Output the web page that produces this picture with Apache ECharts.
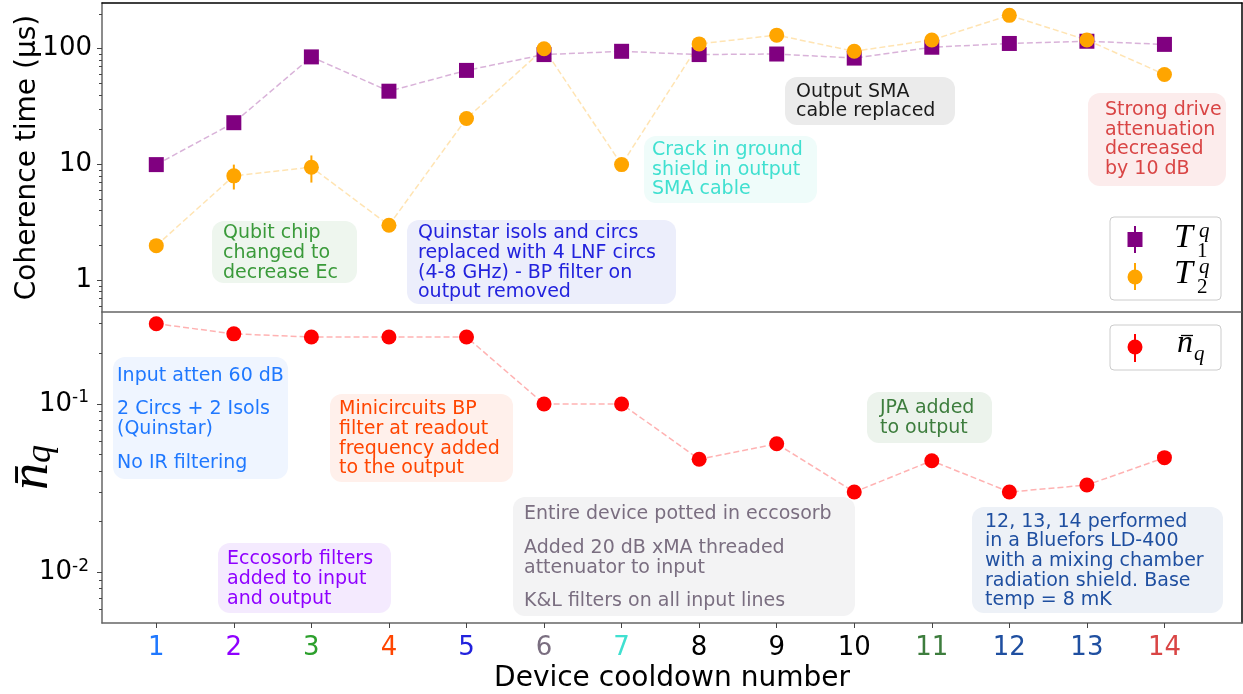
<!DOCTYPE html>
<html>
<head>
<meta charset="utf-8">
<script src="https://cdn.jsdelivr.net/npm/echarts@6/dist/echarts.min.js"></script>
<style>
html,body{margin:0;padding:0;background:#fff;}
#chart{width:1243px;height:694px;}
</style>
</head>
<body>
<div id="chart"></div>
<script>
// ---- data ----
const cooldowns = [1, 2, 3, 4, 5, 6, 7, 8, 9, 10, 11, 12, 13, 14];
const t1Values = [10, 23, 85, 43, 65, 89, 95, 89, 90, 83, 103, 111, 116, 109];
const t2Values = [2.0, 8.0, 9.5, 3.0, 25, 100, 10, 110, 131, 95, 119, 194, 119, 60];
const t2ErrLow = [null, 6.1, 7.0, null, null, null, null, null, null, null, null, null, null, null];
const t2ErrHigh = [null, 10, 12, null, null, null, null, null, null, null, null, null, null, null];
const nqValues = [0.30, 0.261, 0.25, 0.25, 0.25, 0.10, 0.10, 0.047, 0.058, 0.030, 0.046, 0.030, 0.033, 0.048];
const topMajorTicks = [1, 10, 100];
const topMinorTicks = [0.6, 0.7, 0.8, 0.9, 2, 3, 4, 5, 6, 7, 8, 9, 20, 30, 40, 50, 60, 70, 80, 90, 200];
const bottomMajorTicks = [0.01, 0.1];
const bottomMinorTicks = [0.006, 0.007, 0.008, 0.009, 0.02, 0.03, 0.04, 0.05, 0.06, 0.07, 0.08, 0.09, 0.2, 0.3];
const tickColors = ['#1f78ff', '#8f00ff', '#2ca02c', '#ff4500', '#2222dd', '#7a6e80', '#40e0d0',
                    '#000000', '#000000', '#000000', '#3d7d3d', '#1f4fa0', '#1f4fa0', '#d94545'];

const FONT = 'DejaVu Sans';
const MATH = 'Liberation Serif';
const X_MIN = 0.3, X_MAX = 15;
const TOP_MIN = 0.535, TOP_MAX = 248;
const BOT_MIN = 0.005, BOT_MAX = 0.352;

const chart = echarts.init(document.getElementById('chart'));

const pair = (xs, ys) => xs.map((x, i) => [x, ys[i]]);
const errData = cooldowns.map((x, i) => [x, t2ErrLow[i], t2ErrHigh[i]]).filter(d => d[1] != null);

const xRich = {};
tickColors.forEach((c, i) => { xRich['c' + i] = { color: c, fontSize: 26, fontFamily: FONT }; });

// annotation boxes: [left, top, right, bottom], text left, first-line centre
const annotations = [
  { text: 'Qubit chip\nchanged to\ndecrease Ec', color: '#3a9a3a', bg: '#eef6ee', box: [212, 221, 357, 283], tx: 223, ty: 233.3 },
  { text: 'Quinstar isols and circs\nreplaced with 4 LNF circs\n(4-8 GHz) - BP filter on\noutput removed', color: '#2222dd', bg: '#eceefb', box: [407, 220, 676, 304], tx: 418, ty: 233.3 },
  { text: 'Crack in ground\nshield in output\nSMA cable', color: '#40e0d0', bg: '#effcfa', box: [644, 136, 817, 203], tx: 652, ty: 150 },
  { text: 'Output SMA\ncable replaced', color: '#1a1a1a', bg: '#ebebeb', box: [785, 77, 955, 125], tx: 796, ty: 91.7 },
  { text: 'Strong drive\nattenuation\ndecreased\nby 10 dB', color: '#d94545', bg: '#fcecec', box: [1088, 93, 1226, 186], tx: 1105, ty: 110 },
  { text: 'Input atten 60 dB\n{g| }\n2 Circs + 2 Isols\n(Quinstar)\n{g| }\nNo IR filtering', color: '#1f78ff', bg: '#eff5ff', box: [113, 357, 288, 479], tx: 117, ty: 375.7 },
  { text: 'Minicircuits BP\nfilter at readout\nfrequency added\nto the output', color: '#ff4500', bg: '#fff0eb', box: [330, 394, 513, 482], tx: 339, ty: 409.3 },
  { text: 'Eccosorb filters\nadded to input\nand output', color: '#8f00ff', bg: '#f4eafe', box: [218, 543, 391, 613], tx: 227, ty: 559.3 },
  { text: 'Entire device potted in eccosorb\n{g| }\nAdded 20 dB xMA threaded\nattenuator to input\n{g| }\nK&L filters on all input lines', color: '#7a6e80', bg: '#f3f3f4', box: [513, 497, 855, 616], tx: 524, ty: 514.3 },
  { text: 'JPA added\nto output', color: '#3d7d3d', bg: '#ecf3ec', box: [867, 392, 992, 443], tx: 880, ty: 408.3 },
  { text: '12, 13, 14 performed\nin a Bluefors LD-400\nwith a mixing chamber\nradiation shield. Base\ntemp = 8 mK', color: '#1f4fa0', bg: '#edf1f7', box: [972, 507, 1223, 613], tx: 985, ty: 521.7 }
];

const LH = 19.7;
const graphics = [];
annotations.forEach(a => {
  graphics.push({
    type: 'rect', z: 4,
    shape: { x: a.box[0], y: a.box[1], width: a.box[2] - a.box[0], height: a.box[3] - a.box[1], r: 12 },
    style: { fill: a.bg }
  });
  graphics.push({
    type: 'text', x: a.tx, y: a.ty - LH / 2, z: 5,
    style: {
      text: a.text, fill: a.color, font: '19px "' + FONT + '"', lineHeight: LH,
      verticalAlign: 'top', align: 'left',
      rich: { g: { lineHeight: 14, fontSize: 10 } }
    }
  });
});

// legend (top)
graphics.push(
  { type: 'rect', z: 6, shape: { x: 1110, y: 217, width: 111, height: 83, r: 4 }, style: { fill: 'rgba(255,255,255,0.9)', stroke: '#cccccc', lineWidth: 1 } },
  { type: 'line', z: 7, shape: { x1: 1135, y1: 226, x2: 1135, y2: 253 }, style: { stroke: '#800080', lineWidth: 2 } },
  { type: 'rect', z: 7, shape: { x: 1127.5, y: 232, width: 15, height: 15 }, style: { fill: '#800080' } },
  { type: 'line', z: 7, shape: { x1: 1135, y1: 263, x2: 1135, y2: 290 }, style: { stroke: '#ffa500', lineWidth: 2 } },
  { type: 'circle', z: 7, shape: { cx: 1135, cy: 277, r: 7.5 }, style: { fill: '#ffa500' } },
  { type: 'text', z: 7, x: 1174, y: 238, style: { text: 'T', font: 'italic 34px "' + MATH + '"', fill: '#000', verticalAlign: 'middle' } },
  { type: 'text', z: 7, x: 1199, y: 231, style: { text: 'q', font: 'italic 21px "' + MATH + '"', fill: '#000', verticalAlign: 'middle' } },
  { type: 'text', z: 7, x: 1197, y: 251, style: { text: '1', font: '21px "' + MATH + '"', fill: '#000', verticalAlign: 'middle' } },
  { type: 'text', z: 7, x: 1174, y: 274, style: { text: 'T', font: 'italic 34px "' + MATH + '"', fill: '#000', verticalAlign: 'middle' } },
  { type: 'text', z: 7, x: 1199, y: 267, style: { text: 'q', font: 'italic 21px "' + MATH + '"', fill: '#000', verticalAlign: 'middle' } },
  { type: 'text', z: 7, x: 1197, y: 287, style: { text: '2', font: '21px "' + MATH + '"', fill: '#000', verticalAlign: 'middle' } },
  // legend (bottom)
  { type: 'rect', z: 6, shape: { x: 1110, y: 325, width: 111, height: 45, r: 4 }, style: { fill: 'rgba(255,255,255,0.9)', stroke: '#cccccc', lineWidth: 1 } },
  { type: 'line', z: 7, shape: { x1: 1135, y1: 334, x2: 1135, y2: 362 }, style: { stroke: '#ff0000', lineWidth: 2 } },
  { type: 'circle', z: 7, shape: { cx: 1135, cy: 347, r: 7.5 }, style: { fill: '#ff0000' } },
  { type: 'line', z: 7, shape: { x1: 1181, y1: 335.5, x2: 1193, y2: 335.5 }, style: { stroke: '#000', lineWidth: 1.3 } },
  { type: 'text', z: 7, x: 1177, y: 344, style: { text: 'n', font: 'italic 32px "' + MATH + '"', fill: '#000', verticalAlign: 'middle' } },
  { type: 'text', z: 7, x: 1194, y: 354, style: { text: 'q', font: 'italic 21px "' + MATH + '"', fill: '#000', verticalAlign: 'middle' } }
);

const hiddenX = (grid, pos, color) => ({
  type: 'value', gridIndex: grid, position: pos, min: X_MIN, max: X_MAX,
  axisLine: { show: true, onZero: false, lineStyle: { color: color, width: 1.5 } },
  axisTick: { show: false }, axisLabel: { show: false }, splitLine: { show: false }
});
const rightY = (grid, mn, mx) => ({
  type: 'log', gridIndex: grid, position: 'right', min: mn, max: mx,
  axisLine: { show: true, onZero: false, lineStyle: { color: '#000', width: 1.5 } },
  axisTick: { show: false }, axisLabel: { show: false }, splitLine: { show: false }
});
const minorY = (grid, mn, mx, vals) => ({
  type: 'log', gridIndex: grid, position: 'left', min: mn, max: mx,
  axisLine: { show: false }, axisLabel: { show: false }, splitLine: { show: false },
  axisTick: { show: true, length: 3, customValues: vals, lineStyle: { color: '#444', width: 1 } }
});

const option = {
  animation: false,
  backgroundColor: '#ffffff',
  grid: [
    { left: 102, right: 1, top: 3, height: 309, outerBoundsMode: 'none', containLabel: false },
    { left: 102, right: 1, top: 312, height: 311, outerBoundsMode: 'none', containLabel: false }
  ],
  xAxis: [
    hiddenX(0, 'bottom', '#666666'),
    hiddenX(0, 'top', '#000000'),
    {
      type: 'value', gridIndex: 1, position: 'bottom', min: X_MIN, max: X_MAX,
      name: 'Device cooldown number', nameLocation: 'middle', nameGap: 42, nameMoveOverlap: false,
      nameTextStyle: { fontSize: 28, fontFamily: FONT, color: '#000' },
      axisLine: { show: true, onZero: false, lineStyle: { color: '#666666', width: 1.5 } },
      axisTick: { show: true, length: 5, customValues: cooldowns, lineStyle: { color: '#444', width: 1 } },
      axisLabel: {
        customValues: cooldowns, margin: 12,
        formatter: v => { const i = cooldowns.indexOf(Math.round(v)); return '{c' + i + '|' + Math.round(v) + '}'; },
        rich: xRich
      },
      splitLine: { show: false }
    }
  ],
  yAxis: [
    {
      type: 'log', gridIndex: 0, position: 'left', min: TOP_MIN, max: TOP_MAX,
      name: 'Coherence time (μs)', nameLocation: 'middle', nameGap: 60, nameMoveOverlap: false,
      nameTextStyle: { fontSize: 28, fontFamily: FONT, color: '#000' },
      axisLine: { show: true, onZero: false, lineStyle: { color: '#666666', width: 1.5 } },
      axisTick: { show: true, length: 5, customValues: topMajorTicks, lineStyle: { color: '#444', width: 1 } },
      axisLabel: { customValues: topMajorTicks, margin: 10,
        formatter: v => '{b|' + Math.round(v) + '}',
        rich: { b: { fontSize: 26, fontFamily: FONT, color: '#000' } } },
      splitLine: { show: false }
    },
    minorY(0, TOP_MIN, TOP_MAX, topMinorTicks),
    rightY(0, TOP_MIN, TOP_MAX),
    {
      type: 'log', gridIndex: 1, position: 'left', min: BOT_MIN, max: BOT_MAX,
      name: '{n|n\u0304}{q|q}', nameLocation: 'middle', nameGap: 42, nameMoveOverlap: false,
      nameTextStyle: { color: '#000', rich: {
        n: { fontSize: 54, fontFamily: MATH, fontStyle: 'italic', color: '#000' },
        q: { fontSize: 36, fontFamily: MATH, fontStyle: 'italic', color: '#000', padding: [16, 0, 0, 0] }
      } },
      axisLine: { show: true, onZero: false, lineStyle: { color: '#666666', width: 1.5 } },
      axisTick: { show: true, length: 5, customValues: bottomMajorTicks, lineStyle: { color: '#444', width: 1 } },
      axisLabel: { customValues: bottomMajorTicks, margin: 13,
        formatter: v => '{b|10}{s|' + Math.round(Math.log10(v)) + '}',
        rich: {
          b: { fontSize: 26, fontFamily: FONT, color: '#000' },
          s: { fontSize: 17, fontFamily: FONT, color: '#000', verticalAlign: 'top', padding: [0, 0, 12, 0] }
        } },
      splitLine: { show: false }
    },
    minorY(1, BOT_MIN, BOT_MAX, bottomMinorTicks),
    rightY(1, BOT_MIN, BOT_MAX)
  ],
  series: [
    {
      name: 'T1', type: 'line', xAxisIndex: 0, yAxisIndex: 0, data: pair(cooldowns, t1Values),
      symbol: 'rect', symbolSize: 15, showAllSymbol: true,
      itemStyle: { color: '#800080' },
      lineStyle: { color: 'rgba(128,0,128,0.3)', width: 1.5, type: [6, 3] }
    },
    {
      name: 'T2 err', type: 'custom', xAxisIndex: 0, yAxisIndex: 0, data: errData,
      renderItem: (params, api) => {
        const p1 = api.coord([api.value(0), api.value(1)]);
        const p2 = api.coord([api.value(0), api.value(2)]);
        return { type: 'line', shape: { x1: p1[0], y1: p1[1], x2: p2[0], y2: p2[1] }, style: { stroke: '#ffa500', lineWidth: 2 } };
      }
    },
    {
      name: 'T2', type: 'line', xAxisIndex: 0, yAxisIndex: 0, data: pair(cooldowns, t2Values),
      symbol: 'circle', symbolSize: 15, showAllSymbol: true,
      itemStyle: { color: '#ffa500' },
      lineStyle: { color: 'rgba(255,165,0,0.3)', width: 1.5, type: [6, 3] }
    },
    {
      name: 'nq', type: 'line', xAxisIndex: 2, yAxisIndex: 3, data: pair(cooldowns, nqValues),
      symbol: 'circle', symbolSize: 15, showAllSymbol: true,
      itemStyle: { color: '#ff0000' },
      lineStyle: { color: 'rgba(255,0,0,0.3)', width: 1.5, type: [6, 3] }
    }
  ],
  graphic: graphics
};
chart.setOption(option);
</script>
</body>
</html>
